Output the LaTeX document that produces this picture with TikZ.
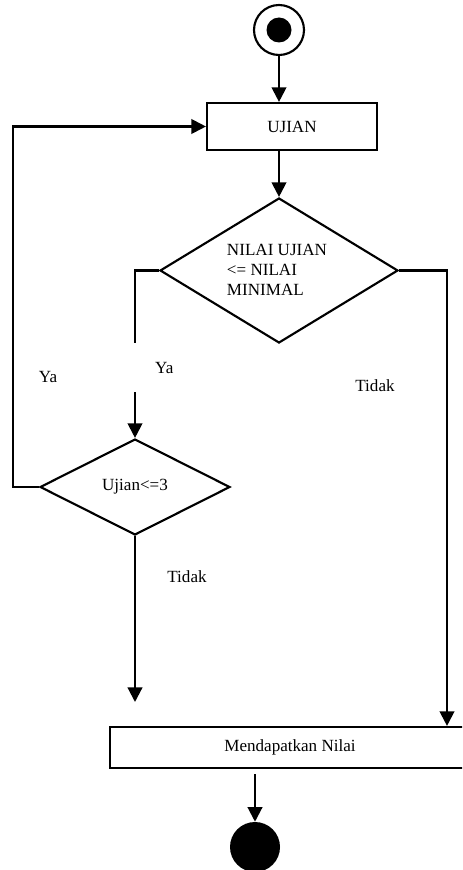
\documentclass[tikz,border=0pt]{standalone}
\usepackage{fontspec}
\setmainfont{Liberation Serif}
\usetikzlibrary{arrows.meta, shapes.geometric}

\begin{document}
\begin{tikzpicture}[x=0.75pt, y=-0.75pt]
      \tikzset{box/.style = {shape=rectangle, draw, line width=1.6pt, inner sep=0pt}}
      \tikzset{cond/.style = {shape=diamond, draw, line width=1.6pt, inner sep=0pt}}
      \tikzset{edge/.style = {line width=1.6pt, -{Triangle[length=11pt,width=11pt]}}}
      \tikzset{lbl/.style = {inner sep=0pt}}
      \fontsize{12.8}{15}\selectfont
      \clip (0,0) rectangle (462,870);

      % start and end
      \node[circle, draw, line width=1.6pt, minimum size=37.5pt] (start) at (279, 30) {};
      \node[circle, fill, minimum size=18.75pt] (startdot) at (279, 30) {};
      \node[circle, fill, minimum size=37.5pt] (stop) at (255, 847) {};

      % activities
      \node[box, minimum width=127.5pt, minimum height=35.25pt] (ujian) at (292, 126.5) {UJIAN};
      \node[box, minimum width=270pt, minimum height=30.75pt] (nilai) at (290, 747.5) {Mendapatkan Nilai};

      % decisions
      \node[cond, minimum width=178.5pt, minimum height=108.75pt] (d1) at (279, 270.5) {};
      \node[align=left, inner sep=0pt] (d1txt) at (277, 270) {NILAI UJIAN\\<= NILAI\\MINIMAL};
      \node[cond, minimum width=142.5pt, minimum height=72pt] (d2) at (135, 487) {Ujian<=3};

      \coordinate (tr) at (447, 0);
      \coordinate (t) at (135, 702);
      \coordinate (b) at (255, 774);

      \draw[edge] (start) to (start |- ujian.north);
      \draw[edge] (d1 |- ujian.south) to (d1);
      \draw[edge] (d1.west) -| (d2.north);
      \draw[edge] (d1.east) -| (tr |- nilai.north);
      \draw[edge] (d2.west) -- ++(-26, 0) |- (ujian.west);
      \draw[edge] (d2.south) -- (t);
      \draw[edge] (b) -- (stop);

      % guards
      \node[lbl, fill=white, anchor=west, minimum width=48pt, minimum height=36.75pt] (ya1) at (132, 367.5) {Ya};
      \node[lbl] (ya2) at (48, 377) {Ya};
      \node[lbl] (tidak1) at (375, 386) {Tidak};
      \node[lbl] (tidak2) at (187, 577) {Tidak};
    \end{tikzpicture}
\end{document}
